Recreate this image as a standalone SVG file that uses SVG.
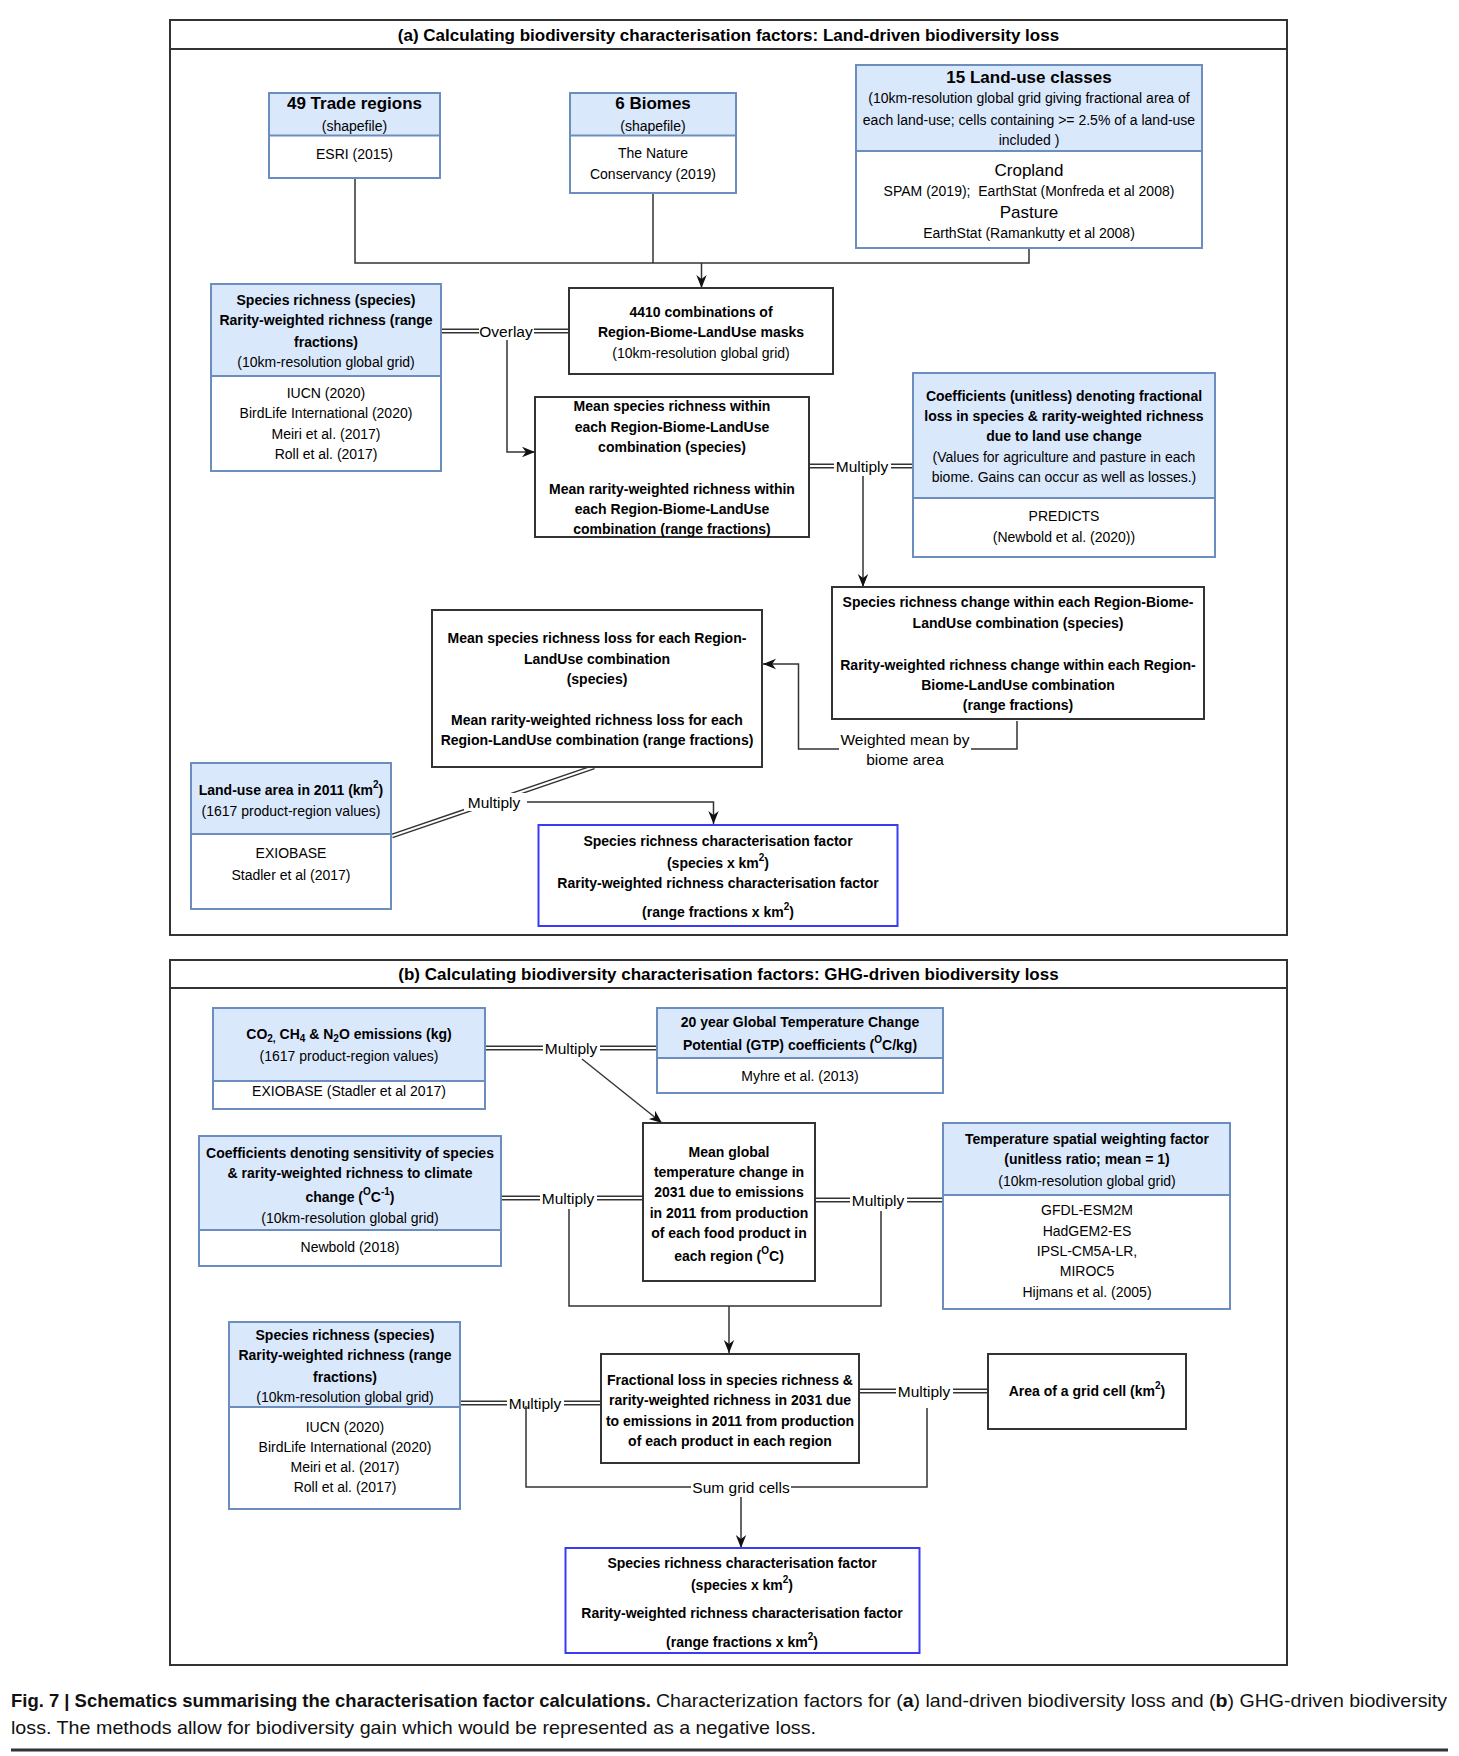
<svg xmlns="http://www.w3.org/2000/svg" width="1459" height="1756" viewBox="0 0 1459 1756">
<defs>
<style>
.t{font-family:"Liberation Sans",Arial,sans-serif;font-size:14px;text-anchor:middle;dominant-baseline:central;fill:#000}
.b{font-weight:bold}
.h{font-size:17px}
.ttl{font-size:17px;font-weight:bold}
.lbl{font-size:15.5px}
.panel{fill:none;stroke:#333;stroke-width:2}
.box{fill:#fff;stroke:#333;stroke-width:2}
.bbox{fill:#fff;stroke:#6c8ebf;stroke-width:2}
.bhead{fill:#dae8fc;stroke:#6c8ebf;stroke-width:2}
.cf{fill:#fff;stroke:#3b3bf5;stroke-width:2}
.ln{fill:none;stroke:#333;stroke-width:1.5}
.arr{fill:none;stroke:#333;stroke-width:1.5;marker-end:url(#ah)}
.dO{fill:none;stroke:#333;stroke-width:5}
.dI{fill:none;stroke:#fff;stroke-width:2}
.bg{fill:#fff}
.cap{font-family:"Liberation Sans",Arial,sans-serif;font-size:19px;fill:#111}
</style>
<marker id="ah" viewBox="0 0 10 10" refX="10" refY="5" markerWidth="13" markerHeight="13" markerUnits="userSpaceOnUse" orient="auto">
<path d="M0,1 L10,5 L0,9 L3,5 Z" fill="#111"/>
</marker>
</defs>
<rect width="1459" height="1756" fill="#fff"/>

<!-- Panel frames -->
<g id="panel-a">
<rect class="panel" x="170" y="20" width="1117" height="915"/>
<line class="panel" x1="170" y1="49" x2="1287" y2="49"/>
<text class="t ttl" x="728.5" y="35">(a) Calculating biodiversity characterisation factors: Land-driven biodiversity loss</text>
</g>
<g id="panel-b">
<rect class="panel" x="170" y="960" width="1117" height="705"/>
<line class="panel" x1="170" y1="988" x2="1287" y2="988"/>
<text class="t ttl" x="728.5" y="974">(b) Calculating biodiversity characterisation factors: GHG-driven biodiversity loss</text>
</g>

<!-- Connectors -->
<g id="connectors">
<path class="ln" d="M355,178 V263 H1029 V248"/>
<path class="ln" d="M653,193 V263"/>
<path class="arr" d="M701.5,263 V288"/>
<!-- Overlay -->
<path class="dO" d="M441,331 H569"/><path class="dI" d="M441,331 H569"/>
<rect class="bg" x="479" y="322" width="55" height="18"/>
<text class="t lbl" x="506" y="331">Overlay</text>
<path class="arr" d="M507,340 V452 H535"/>
<!-- Multiply a1 -->
<path class="dO" d="M809,466 H913"/><path class="dI" d="M809,466 H913"/>
<rect class="bg" x="834" y="457" width="57" height="18"/>
<text class="t lbl" x="862" y="466">Multiply</text>
<path class="arr" d="M863,476 V587"/>
<!-- Weighted mean -->
<path class="ln" d="M1017,721 V749 H971"/>
<path class="arr" d="M839,749 H798.5 V664 H763"/>
<text class="t lbl" x="905" y="739">Weighted mean by</text>
<text class="t lbl" x="905" y="759">biome area</text>
<!-- Multiply a2 -->
<path class="dO" d="M392,836 L594,767"/><path class="dI" d="M392,836 L594,767"/>
<rect class="bg" x="464" y="793" width="62" height="18"/>
<text class="t lbl" x="494" y="802">Multiply</text>
<path class="arr" d="M527,802 H713.5 V824"/>
<!-- Panel b -->
<path class="dO" d="M485,1048 H657"/><path class="dI" d="M485,1048 H657"/>
<rect class="bg" x="543" y="1039" width="57" height="18"/>
<text class="t lbl" x="571" y="1048">Multiply</text>
<path class="arr" d="M582,1059 L662,1123"/>
<path class="dO" d="M501,1198 H643"/><path class="dI" d="M501,1198 H643"/>
<rect class="bg" x="540" y="1189" width="57" height="18"/>
<text class="t lbl" x="568" y="1198">Multiply</text>
<path class="dO" d="M815,1200 H943"/><path class="dI" d="M815,1200 H943"/>
<rect class="bg" x="850" y="1191" width="57" height="18"/>
<text class="t lbl" x="878" y="1200">Multiply</text>
<path class="ln" d="M569,1209 V1306 H881 V1211"/>
<path class="arr" d="M729,1306 V1353"/>
<path class="dO" d="M460,1403 H601"/><path class="dI" d="M460,1403 H601"/>
<rect class="bg" x="507" y="1394" width="57" height="18"/>
<text class="t lbl" x="535" y="1403">Multiply</text>
<path class="dO" d="M859,1391 H988"/><path class="dI" d="M859,1391 H988"/>
<rect class="bg" x="896" y="1382" width="57" height="18"/>
<text class="t lbl" x="924" y="1391">Multiply</text>
<path class="ln" d="M526,1406 V1487 H927 V1408"/>
<rect class="bg" x="691" y="1478" width="100" height="18"/>
<text class="t lbl" x="741" y="1487">Sum grid cells</text>
<path class="arr" d="M741,1497 V1548"/>
</g>

<!-- Panel a nodes -->
<g id="trade-regions">
<rect class="bbox" x="269" y="93" width="171" height="85"/>
<rect class="bhead" x="269" y="93" width="171" height="42.5"/>
<text class="t b h" x="354.5" y="103">49 Trade regions</text>
<text class="t" x="354.5" y="126">(shapefile)</text>
<text class="t" x="354.5" y="154">ESRI (2015)</text>
</g>
<g id="biomes">
<rect class="bbox" x="570" y="93" width="166" height="100"/>
<rect class="bhead" x="570" y="93" width="166" height="42.5"/>
<text class="t b h" x="653" y="103">6 Biomes</text>
<text class="t" x="653" y="126">(shapefile)</text>
<text class="t" x="653" y="153">The Nature</text>
<text class="t" x="653" y="174">Conservancy (2019)</text>
</g>
<g id="land-use-classes">
<rect class="bbox" x="856" y="65" width="346" height="183"/>
<rect class="bhead" x="856" y="65" width="346" height="86"/>
<text class="t b h" x="1029" y="77">15 Land-use classes</text>
<text class="t" x="1029" y="98">(10km-resolution global grid giving fractional area of</text>
<text class="t" x="1029" y="120">each land-use; cells containing &gt;= 2.5% of a land-use</text>
<text class="t" x="1029" y="140">included )</text>
<text class="t h" x="1029" y="170">Cropland</text>
<text class="t" x="1029" y="191" xml:space="preserve">SPAM (2019);  EarthStat (Monfreda et al 2008)</text>
<text class="t h" x="1029" y="212">Pasture</text>
<text class="t" x="1029" y="233">EarthStat (Ramankutty et al 2008)</text>
</g>
<g id="combinations">
<rect class="box" x="569" y="288" width="264" height="86"/>
<text class="t b" x="701" y="312">4410 combinations of</text>
<text class="t b" x="701" y="332">Region-Biome-LandUse masks</text>
<text class="t" x="701" y="353">(10km-resolution global grid)</text>
</g>
<g id="species-richness-a">
<rect class="bbox" x="211" y="284" width="230" height="187"/>
<rect class="bhead" x="211" y="284" width="230" height="92"/>
<text class="t b" x="326" y="300">Species richness (species)</text>
<text class="t b" x="326" y="320">Rarity-weighted richness (range</text>
<text class="t b" x="326" y="342">fractions)</text>
<text class="t" x="326" y="362">(10km-resolution global grid)</text>
<text class="t" x="326" y="393">IUCN (2020)</text>
<text class="t" x="326" y="413">BirdLife International (2020)</text>
<text class="t" x="326" y="434">Meiri et al. (2017)</text>
<text class="t" x="326" y="454">Roll et al. (2017)</text>
</g>
<g id="mean-richness">
<rect class="box" x="535" y="397" width="274" height="140"/>
<text class="t b" x="672" y="406">Mean species richness within</text>
<text class="t b" x="672" y="427">each Region-Biome-LandUse</text>
<text class="t b" x="672" y="447">combination (species)</text>
<text class="t b" x="672" y="489">Mean rarity-weighted richness within</text>
<text class="t b" x="672" y="509">each Region-Biome-LandUse</text>
<text class="t b" x="672" y="529">combination (range fractions)</text>
</g>
<g id="coefficients-lu">
<rect class="bbox" x="913" y="373" width="302" height="184"/>
<rect class="bhead" x="913" y="373" width="302" height="125"/>
<text class="t b" x="1064" y="396">Coefficients (unitless) denoting fractional</text>
<text class="t b" x="1064" y="416">loss in species &amp; rarity-weighted richness</text>
<text class="t b" x="1064" y="436">due to land use change</text>
<text class="t" x="1064" y="457">(Values for agriculture and pasture in each</text>
<text class="t" x="1064" y="477">biome. Gains can occur as well as losses.)</text>
<text class="t" x="1064" y="516">PREDICTS</text>
<text class="t" x="1064" y="537">(Newbold et al. (2020))</text>
</g>
<g id="richness-change">
<rect class="box" x="832" y="587" width="372" height="132"/>
<text class="t b" x="1018" y="602">Species richness change within each Region-Biome-</text>
<text class="t b" x="1018" y="623">LandUse combination (species)</text>
<text class="t b" x="1018" y="665">Rarity-weighted richness change within each Region-</text>
<text class="t b" x="1018" y="685">Biome-LandUse combination</text>
<text class="t b" x="1018" y="705">(range fractions)</text>
</g>
<g id="mean-loss">
<rect class="box" x="432" y="610" width="330" height="157"/>
<text class="t b" x="597" y="638">Mean species richness loss for each Region-</text>
<text class="t b" x="597" y="659">LandUse combination</text>
<text class="t b" x="597" y="679">(species)</text>
<text class="t b" x="597" y="720">Mean rarity-weighted richness loss for each</text>
<text class="t b" x="597" y="740">Region-LandUse combination (range fractions)</text>
</g>
<g id="land-use-area">
<rect class="bbox" x="191" y="763" width="200" height="146"/>
<rect class="bhead" x="191" y="763" width="200" height="71"/>
<text class="t b" x="291" y="790">Land-use area in 2011 (km<tspan dy="-6" font-size="10">2</tspan><tspan dy="6">)</tspan></text>
<text class="t" x="291" y="811">(1617 product-region values)</text>
<text class="t" x="291" y="853">EXIOBASE</text>
<text class="t" x="291" y="875">Stadler et al (2017)</text>
</g>
<g id="cf-a">
<rect class="cf" x="538.5" y="825" width="359" height="101"/>
<text class="t b" x="718" y="841">Species richness characterisation factor</text>
<text class="t b" x="718" y="863">(species x km<tspan dy="-6" font-size="10">2</tspan><tspan dy="6">)</tspan></text>
<text class="t b" x="718" y="883">Rarity-weighted richness characterisation factor</text>
<text class="t b" x="718" y="912">(range fractions x km<tspan dy="-6" font-size="10">2</tspan><tspan dy="6">)</tspan></text>
</g>

<!-- Panel b nodes -->
<g id="emissions">
<rect class="bbox" x="213" y="1008" width="272" height="101"/>
<rect class="bhead" x="213" y="1008" width="272" height="73"/>
<text class="t b" x="349" y="1034">CO<tspan dy="4" font-size="10">2,</tspan><tspan dy="-4"> CH</tspan><tspan dy="4" font-size="10">4</tspan><tspan dy="-4"> &amp; N</tspan><tspan dy="4" font-size="10">2</tspan><tspan dy="-4">O emissions (kg)</tspan></text>
<text class="t" x="349" y="1056">(1617 product-region values)</text>
<text class="t" x="349" y="1091">EXIOBASE (Stadler et al 2017)</text>
</g>
<g id="gtp">
<rect class="bbox" x="657" y="1008" width="286" height="85"/>
<rect class="bhead" x="657" y="1008" width="286" height="50"/>
<text class="t b" x="800" y="1022">20 year Global Temperature Change</text>
<text class="t b" x="800" y="1045">Potential (GTP) coefficients (<tspan dy="-6" font-size="10">O</tspan><tspan dy="6">C/kg)</tspan></text>
<text class="t" x="800" y="1076">Myhre et al. (2013)</text>
</g>
<g id="sensitivity">
<rect class="bbox" x="199" y="1136" width="302" height="130"/>
<rect class="bhead" x="199" y="1136" width="302" height="94"/>
<text class="t b" x="350" y="1153">Coefficients denoting sensitivity of species</text>
<text class="t b" x="350" y="1173">&amp; rarity-weighted richness to climate</text>
<text class="t b" x="350" y="1197">change (<tspan dy="-6" font-size="10">O</tspan><tspan dy="6">C</tspan><tspan dy="-6" font-size="10">-1</tspan><tspan dy="6">)</tspan></text>
<text class="t" x="350" y="1218">(10km-resolution global grid)</text>
<text class="t" x="350" y="1247">Newbold (2018)</text>
</g>
<g id="mean-temp">
<rect class="box" x="643" y="1123" width="172" height="158"/>
<text class="t b" x="729" y="1152">Mean global</text>
<text class="t b" x="729" y="1172">temperature change in</text>
<text class="t b" x="729" y="1192">2031 due to emissions</text>
<text class="t b" x="729" y="1213">in 2011 from production</text>
<text class="t b" x="729" y="1233">of each food product in</text>
<text class="t b" x="729" y="1256">each region (<tspan dy="-6" font-size="10">O</tspan><tspan dy="6">C)</tspan></text>
</g>
<g id="temp-weighting">
<rect class="bbox" x="943" y="1123" width="287" height="186"/>
<rect class="bhead" x="943" y="1123" width="287" height="72"/>
<text class="t b" x="1087" y="1139">Temperature spatial weighting factor</text>
<text class="t b" x="1087" y="1159">(unitless ratio; mean = 1)</text>
<text class="t" x="1087" y="1181">(10km-resolution global grid)</text>
<text class="t" x="1087" y="1210">GFDL-ESM2M</text>
<text class="t" x="1087" y="1231">HadGEM2-ES</text>
<text class="t" x="1087" y="1251">IPSL-CM5A-LR,</text>
<text class="t" x="1087" y="1271">MIROC5</text>
<text class="t" x="1087" y="1292">Hijmans et al. (2005)</text>
</g>
<g id="species-richness-b">
<rect class="bbox" x="229" y="1322" width="231" height="187"/>
<rect class="bhead" x="229" y="1322" width="231" height="85"/>
<text class="t b" x="345" y="1335">Species richness (species)</text>
<text class="t b" x="345" y="1355">Rarity-weighted richness (range</text>
<text class="t b" x="345" y="1377">fractions)</text>
<text class="t" x="345" y="1397">(10km-resolution global grid)</text>
<text class="t" x="345" y="1427">IUCN (2020)</text>
<text class="t" x="345" y="1447">BirdLife International (2020)</text>
<text class="t" x="345" y="1467">Meiri et al. (2017)</text>
<text class="t" x="345" y="1487">Roll et al. (2017)</text>
</g>
<g id="fractional-loss">
<rect class="box" x="601" y="1354" width="258" height="109"/>
<text class="t b" x="730" y="1380">Fractional loss in species richness &amp;</text>
<text class="t b" x="730" y="1400">rarity-weighted richness in 2031 due</text>
<text class="t b" x="730" y="1421">to emissions in 2011 from production</text>
<text class="t b" x="730" y="1441">of each product in each region</text>
</g>
<g id="grid-area">
<rect class="box" x="988" y="1354" width="198" height="75"/>
<text class="t b" x="1087" y="1391">Area of a grid cell (km<tspan dy="-6" font-size="10">2</tspan><tspan dy="6">)</tspan></text>
</g>
<g id="cf-b">
<rect class="cf" x="565.5" y="1548" width="354" height="105"/>
<text class="t b" x="742" y="1563">Species richness characterisation factor</text>
<text class="t b" x="742" y="1585">(species x km<tspan dy="-6" font-size="10">2</tspan><tspan dy="6">)</tspan></text>
<text class="t b" x="742" y="1613">Rarity-weighted richness characterisation factor</text>
<text class="t b" x="742" y="1642">(range fractions x km<tspan dy="-6" font-size="10">2</tspan><tspan dy="6">)</tspan></text>
</g>

<!-- Caption -->
<g id="caption">
<text class="cap" x="11" y="1707" font-weight="bold" textLength="640" lengthAdjust="spacingAndGlyphs">Fig. 7 | Schematics summarising the characterisation factor calculations.</text>
<text class="cap" x="656" y="1707" textLength="791" lengthAdjust="spacingAndGlyphs">Characterization factors for (<tspan font-weight="bold">a</tspan>) land-driven biodiversity loss and (<tspan font-weight="bold">b</tspan>) GHG-driven biodiversity</text>
<text class="cap" x="11" y="1734" textLength="805" lengthAdjust="spacingAndGlyphs">loss. The methods allow for biodiversity gain which would be represented as a negative loss.</text>
<line x1="11" y1="1750" x2="1448" y2="1750" stroke="#333" stroke-width="3"/>
</g>
</svg>
